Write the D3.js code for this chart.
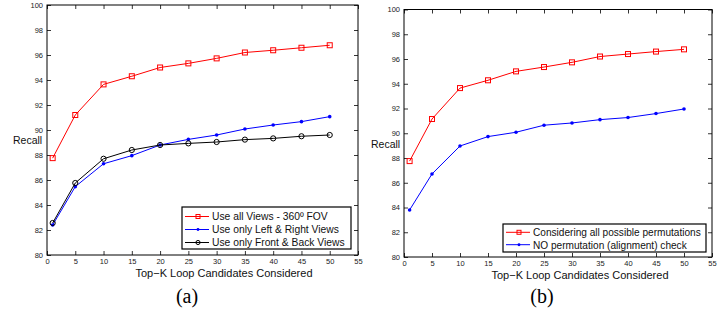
<!DOCTYPE html>
<html><head><meta charset="utf-8">
<script src="https://cdn.jsdelivr.net/npm/d3@7"></script>
<style>body{margin:0;background:#fff}svg{display:block}</style>
</head><body><svg id="c" width="725" height="324"></svg>
<script>
const kValues = [1,5,10,15,20,25,30,35,40,45,50];
const allViews = [87.75,91.2,93.65,94.3,95.0,95.33,95.73,96.2,96.38,96.58,96.78];
const leftRight = [82.4,85.47,87.3,87.95,88.8,89.25,89.6,90.08,90.4,90.67,91.07];
const frontBack = [82.56,85.76,87.7,88.4,88.8,88.93,89.04,89.23,89.33,89.5,89.6];
const allPerms = [87.75,91.15,93.65,94.28,95.0,95.35,95.73,96.2,96.4,96.6,96.78];
const noPerm = [83.8,86.71,88.97,89.73,90.08,90.65,90.83,91.1,91.27,91.59,91.96];
const xTicks = [0,5,10,15,20,25,30,35,40,45,50,55];
const yTicks = [80,82,84,86,88,90,92,94,96,98,100];
const xLabel = "Top\u2212K Loop Candidates Considered";
const yLabel = "Recall";

const svg = d3.select("#c");
const font = "Liberation Sans, Arial, sans-serif";

function panel(opt){
  const {x0,x1,y0,y1,series,legend,caption,capX,xlabX,ylabX,ylabY} = opt;
  const x = d3.scaleLinear().domain([0,55]).range([x0,x1]);
  const y = d3.scaleLinear().domain([80,100]).range([y1,y0]);
  const g = svg.append("g");
  const ax = d3.axisBottom(x).tickValues(xTicks).tickSize(-4).tickPadding(4);
  const axT = d3.axisTop(x).tickValues(xTicks).tickSize(-4).tickFormat("");
  const ay = d3.axisLeft(y).tickValues(yTicks).tickSize(-4).tickPadding(4);
  const ayR = d3.axisRight(y).tickValues(yTicks).tickSize(-4).tickFormat("");
  g.append("g").attr("transform",`translate(0,${y1})`).call(ax);
  g.append("g").attr("transform",`translate(0,${y0})`).call(axT);
  g.append("g").attr("transform",`translate(${x0},0)`).call(ay);
  g.append("g").attr("transform",`translate(${x1},0)`).call(ayR);
  g.selectAll(".domain").remove();
  g.selectAll(".tick line").attr("stroke","#000").attr("stroke-width",0.8);
  g.selectAll(".tick text").attr("font-family",font).attr("font-size",7.5).attr("fill","#222");
  g.append("rect").attr("x",x0).attr("y",y0).attr("width",x1-x0).attr("height",y1-y0)
    .attr("fill","none").attr("stroke","#000").attr("stroke-width",1);

  const line = d3.line().x((d,i)=>x(kValues[i])).y(d=>y(d));
  series.forEach(s=>{
    g.append("path").datum(s.values).attr("d",line).attr("fill","none")
      .attr("stroke",s.color).attr("stroke-width",1);
    s.values.forEach((v,i)=>drawMarker(g,s,x(kValues[i]),y(v),1));
  });

  g.append("text").attr("x",xlabX).attr("y",y1+22).attr("text-anchor","middle")
    .attr("font-family",font).attr("font-size",11).attr("fill","#111").text(xLabel);
  g.append("text").attr("x",ylabX).attr("y",ylabY).attr("font-family",font)
    .attr("font-size",10.5).attr("fill","#111").text(yLabel);
  g.append("text").attr("x",capX).attr("y",303).attr("text-anchor","middle")
    .attr("font-family","Liberation Serif, Times New Roman, serif").attr("font-size",20)
    .attr("fill","#000").text(caption);

  const L = legend;
  g.append("rect").attr("x",L.x).attr("y",L.y).attr("width",L.w).attr("height",L.h)
    .attr("fill","#fff").attr("stroke","#000").attr("stroke-width",1.2);
  series.forEach((s,i)=>{
    const ly = L.y + L.first + i*L.step;
    g.append("line").attr("x1",L.x+3).attr("x2",L.x+27).attr("y1",ly).attr("y2",ly)
      .attr("stroke",s.color).attr("stroke-width",1);
    drawMarker(g,s,L.x+16,ly,0.8);
    g.append("text").attr("x",L.x+30).attr("y",ly+3.8).attr("font-family",font)
      .attr("font-size",L.fs).attr("fill","#111").text(s.name);
  });
}

function drawMarker(g,s,cx,cy,k){
  if(s.marker==="square"){
    const h=2.5*k;
    g.append("rect").attr("x",cx-h).attr("y",cy-h).attr("width",2*h).attr("height",2*h)
      .attr("fill","none").attr("stroke",s.color).attr("stroke-width",1);
  } else if(s.marker==="dot"){
    g.append("circle").attr("cx",cx).attr("cy",cy).attr("r",1.8*k).attr("fill",s.color);
  } else {
    g.append("circle").attr("cx",cx).attr("cy",cy).attr("r",2.6*k)
      .attr("fill","none").attr("stroke",s.color).attr("stroke-width",1);
  }
}

panel({x0:47,x1:358,y0:5,y1:255,
  series:[
    {name:"Use all Views - 360\u00BA FOV",values:allViews,color:"#ff0000",marker:"square"},
    {name:"Use only Left & Right Views",values:leftRight,color:"#0000ff",marker:"dot"},
    {name:"Use only Front & Back Views",values:frontBack,color:"#000000",marker:"circle"}
  ],
  legend:{x:182,y:207,w:169,h:42,first:9.5,step:13,fs:10.3},
  caption:"(a)",capX:187,xlabX:224,ylabX:13,ylabY:144});

panel({x0:404,x1:712,y0:9.5,y1:257,
  series:[
    {name:"Considering all possible permutations",values:allPerms,color:"#ff0000",marker:"square"},
    {name:"NO permutation (alignment) check",values:noPerm,color:"#0000ff",marker:"dot"}
  ],
  legend:{x:503,y:224,w:203,h:28,first:8.3,step:12.4,fs:10.1},
  caption:"(b)",capX:542,xlabX:580,ylabX:371,ylabY:148});
</script></body></html>
